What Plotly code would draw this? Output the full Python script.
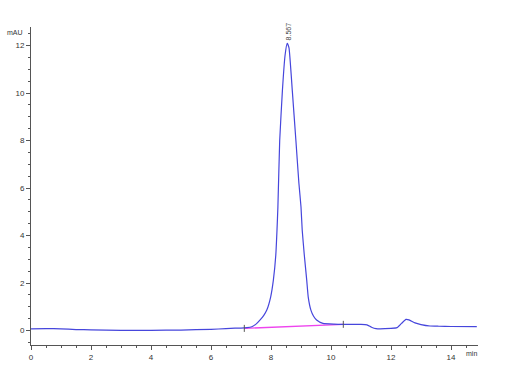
import plotly.graph_objects as go

# Chromatogram trace (time in min, signal in mAU)
time_min = [0.0, 0.5, 1.0, 1.5, 2.0, 3.0, 4.0, 5.0, 6.0, 6.5, 6.8, 7.0, 7.2, 7.36, 7.5, 7.63,
            7.76, 7.86, 7.99, 8.08, 8.16, 8.2, 8.23, 8.29, 8.38, 8.47, 8.54, 8.6, 8.71, 8.83,
            8.93, 9.0, 9.04, 9.11, 9.19, 9.24, 9.33, 9.42, 9.52, 9.73, 10.1, 10.5, 11.0, 11.2,
            11.35, 11.5, 12.0, 12.2, 12.35, 12.5, 12.6, 12.8, 13.0, 13.3, 13.6, 14.0, 14.86]
signal_mau = [0.07, 0.08, 0.07, 0.04, 0.03, 0.01, 0.01, 0.02, 0.05, 0.08, 0.1, 0.1, 0.12, 0.16, 0.27, 0.44,
              0.64, 0.86, 1.42, 2.13, 3.18, 4.23, 5.2, 8.0, 10.1, 11.6, 12.09, 11.9, 10.1, 8.0,
              6.2, 5.2, 4.23, 3.18, 2.13, 1.42, 0.86, 0.6, 0.44, 0.3, 0.27, 0.26, 0.26, 0.24,
              0.14, 0.08, 0.09, 0.12, 0.3, 0.47, 0.45, 0.32, 0.25, 0.19, 0.18, 0.17, 0.16]

# Integration baseline
baseline_t = [7.11, 10.41]
baseline_v = [0.09, 0.26]

peak_rt = 8.567
peak_height = 12.09
peak_label = "8.567"

fig = go.Figure()
fig.add_trace(go.Scatter(x=baseline_t, y=baseline_v, mode="lines",
                         line=dict(color="#ee44ee", width=1.3), hoverinfo="skip"))
fig.add_trace(go.Scatter(x=time_min, y=signal_mau, mode="lines",
                         line=dict(color="#4646dc", width=1.2, shape="spline", smoothing=0.4)))
# baseline end markers
fig.add_trace(go.Scatter(x=baseline_t, y=baseline_v, mode="markers",
                         marker=dict(symbol="line-ns", size=5, line=dict(color="#555555", width=1)),
                         hoverinfo="skip"))

axis_common = dict(showline=True, linecolor="#555555", linewidth=1, ticks="outside",
                   tickcolor="#555555", ticklen=4, showgrid=False, zeroline=False,
                   tickfont=dict(family="Liberation Sans, Arial", size=8, color="#333333"))

fig.update_xaxes(range=[0, 14.9], dtick=2, tick0=0,
                 minor=dict(dtick=0.5, ticklen=2, ticks="outside", tickcolor="#555555"),
                 **axis_common)
fig.update_yaxes(range=[-0.61, 12.78], dtick=2, tick0=0,
                 minor=dict(dtick=0.5, ticklen=2, ticks="outside", tickcolor="#555555"),
                 **axis_common)

fig.add_annotation(x=peak_rt, y=peak_height, text=peak_label, textangle=-90, showarrow=False,
                   yanchor="bottom", xanchor="center", yshift=1,
                   font=dict(family="Liberation Sans, Arial", size=7, color="#444444"))
fig.add_annotation(xref="paper", yref="paper", x=0, y=1, text="mAU", showarrow=False,
                   xanchor="right", yanchor="middle", xshift=-6, yshift=-5,
                   font=dict(family="Liberation Sans, Arial", size=7, color="#333333"))
fig.add_annotation(xref="paper", yref="paper", x=1, y=0, text="min", showarrow=False,
                   xanchor="right", yanchor="top", xshift=1, yshift=-3,
                   font=dict(family="Liberation Sans, Arial", size=7, color="#333333"))

fig.update_layout(width=523, height=374, showlegend=False,
                  margin=dict(l=31, r=45, t=27, b=29),
                  plot_bgcolor="white", paper_bgcolor="white")

fig.write_html("out.html")
